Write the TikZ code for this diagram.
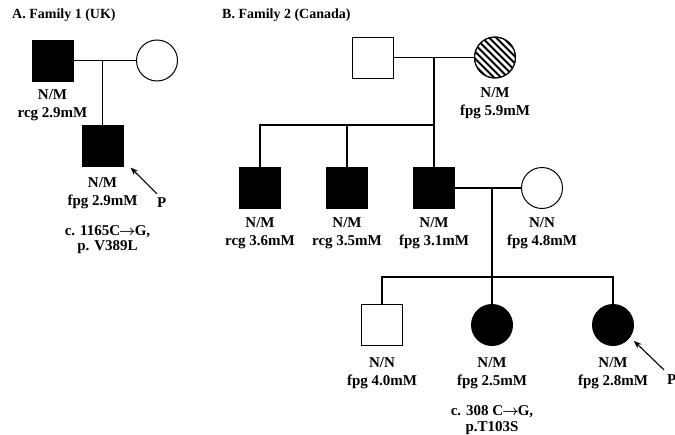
\documentclass[tikz,border=0pt]{standalone}
\usepackage{amsmath}
\usepackage{fontspec}
\setmainfont{Liberation Serif}
\usetikzlibrary{calc, arrows.meta, positioning}

\tikzset{
  person/.style={draw, line width=1pt, inner sep=0pt},
  male/.style={person, rectangle, minimum size=41pt},
  female/.style={person, circle, minimum size=41pt},
  affected/.style={fill=black},
  info/.style={font=\bfseries\fontsize{15}{18}\selectfont, align=center, inner sep=0pt},
  mutation/.style={info, font=\bfseries\fontsize{15}{15.5}\selectfont},
  title/.style={font=\bfseries\fontsize{14}{17}\selectfont, inner sep=0pt, anchor=west},
  line/.style={line width=1.1pt},
  proband/.style={line width=1.1pt, -{Stealth[length=8pt,width=6pt]}}
}
\newcommand{\subst}{\kern-1pt$\boldsymbol{\rightarrow}$\kern-1pt}

\begin{document}
\begin{tikzpicture}[x=1pt,y=-1pt]
  \useasboundingbox (0,0) rectangle (675,434);

  % A. Family 1
  \node[title] (titleA) at (12,15) {A. Family 1 (UK)};
  \node[male, affected] (f1dad) at (52.5,60.5) {};
  \node[female] (f1mom) at (157,60.5) {};
  \node[male, affected] (f1kid) at (102.5,145.5) {};
  \coordinate (f1mate) at (102.5,60.5);
  \draw[line] (f1dad.east) -- (f1mom.west);
  \draw[line] (f1mate) -- (f1kid.north);

  \node[info, below=8pt of f1dad] (f1dadtxt) {N/M\\rcg 2.9mM};
  \node[info, below=11pt of f1kid] (f1kidtxt) {N/M\\fpg 2.9mM};
  \node[mutation, below=16pt of f1kidtxt, xshift=5pt] (f1mut) {c. 1165C\subst G,\\p. V389L};
  \node[info, anchor=west] (p1) at (157,203) {P};
  \draw[proband] ([shift={(0,-4)}]p1.north west) -- ([shift={(7,1)}]f1kid.south east);

  % B. Family 2
  \node[title] (titleB) at (222,15) {B. Family 2 (Canada)};
  % generation I
  \node[male] (g1dad) at (372.5,57.5) {};
  \node[female] (g1mom) at (495,57.5) {};
  \begin{scope}
    \clip (g1mom) circle (20.5pt);
    \foreach \d in {-49,-42,...,49}
      \draw[line width=2pt] ($(g1mom)+(\d-30,-30)$) -- ($(g1mom)+(\d+30,30)$);
  \end{scope}
  \node[female] at (g1mom) {};
  \coordinate (g1mate) at (434,57.5);
  \draw[line] (g1dad.east) -- (g1mom.west);
  \node[info, below=9pt of g1mom] (g1momtxt) {N/M\\fpg 5.9mM};

  % generation II
  \node[male, affected] (g2a) at (260,188) {};
  \node[male, affected] (g2b) at (347,188) {};
  \node[male, affected] (g2c) at (434,188) {};
  \node[female] (g2wife) at (542,188) {};
  \coordinate (g2sib) at (434,125);
  \draw[line] (g1mate) -- (g2c.north);
  \draw[line] (g2sib) -| (g2a.north);
  \draw[line] (g2b.north) -- (g2b.north |- g2sib);
  \draw[line] (g2c.east) -- (g2wife.west);

  \node[info, below=8pt of g2a] (g2atxt) {N/M\\rcg 3.6mM};
  \node[info, below=8pt of g2b] (g2btxt) {N/M\\rcg 3.5mM};
  \node[info, below=8pt of g2c] (g2ctxt) {N/M\\fpg 3.1mM};
  \node[info, below=8pt of g2wife] (g2wifetxt) {N/N\\fpg 4.8mM};

  % generation III
  \coordinate (g2mate) at (492,188);
  \node[male] (g3a) at (382,325) {};
  \node[female, affected] (g3b) at (492,325) {};
  \node[female, affected] (g3c) at (613,325) {};
  \coordinate (g3sib) at (492,277);
  \draw[line] (g2mate) -- (g3b.north);
  \draw[line] (g3a.north) |- (g3sib) -| (g3c.north);

  \node[info, below=11pt of g3a] (g3atxt) {N/N\\fpg 4.0mM};
  \node[info, below=11pt of g3b] (g3btxt) {N/M\\fpg 2.5mM};
  \node[info, below=11pt of g3c] (g3ctxt) {N/M\\fpg 2.8mM};
  \node[mutation, below=17pt of g3btxt] (g3mut) {c. 308 C\subst G,\\p.T103S};
  \node[info, anchor=west] (p2) at (667,380) {P};
  \draw[proband] ([shift={(-3,-5)}]p2.north west) -- ([shift={(6,1)}]g3c.south east);
\end{tikzpicture}
\end{document}
